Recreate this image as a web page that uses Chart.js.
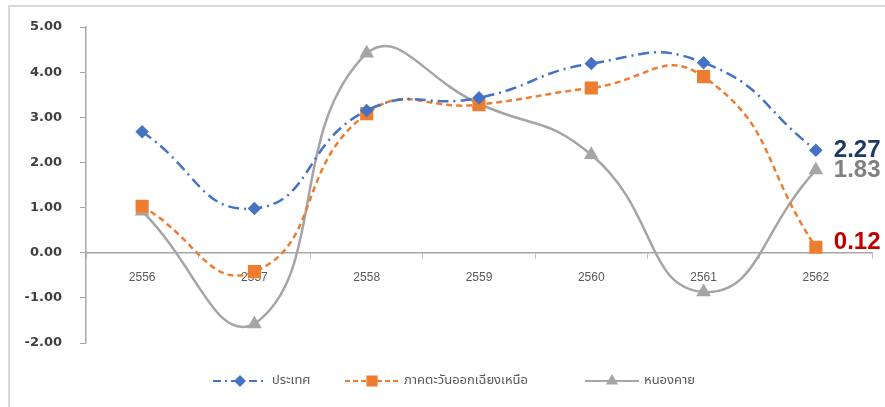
<!DOCTYPE html>
<html lang="th">
<head>
    <meta charset="UTF-8">
    <title>อัตราการเติบโต</title>
    <script src="https://cdn.jsdelivr.net/npm/chart.js"></script>
    <style>
        body {
            margin: 0;
            padding: 0;
            background: #fff;
        }
        .frame {
            position: absolute;
            left: 8px;
            top: 5px;
            width: 900px;
            height: 420px;
            border-top: 2px solid #d9d9d9;
            border-left: 2px solid #d9d9d9;
        }
        #growthChart {
            position: absolute;
            left: 0;
            top: 0;
        }
    </style>
</head>
<body>
    <div class="frame"></div>
    <canvas id="growthChart" width="885" height="407"></canvas>

    <script>
        // years (Thai B.E.)
        const years = ['2556', '2557', '2558', '2559', '2560', '2561', '2562'];
        const country = [2.68, 0.98, 3.15, 3.43, 4.19, 4.21, 2.27];
        const northeast = [1.03, -0.42, 3.08, 3.28, 3.65, 3.90, 0.12];
        const nongkhai = [0.92, -1.58, 4.42, 3.30, 2.17, -0.87, 1.83];
        const seriesNames = ['ประเทศ', 'ภาคตะวันออกเฉียงเหนือ', 'หนองคาย'];
        const yTicks = [-2, -1, 0, 1, 2, 3, 4, 5];

        const thaiFont = "'Noto Sans Thai', 'Noto Sans', 'Liberation Sans', sans-serif";

        // end-of-line value labels
        const endLabels = {
            id: 'endLabels',
            afterDatasetsDraw(chart) {
                const ctx = chart.ctx;
                const colors = ['#1f3864', '#c00000', '#7f7f7f'];
                const shiftY = [0, -5, 0];
                ctx.save();
                ctx.font = "bold 24px 'Liberation Sans', Arial, sans-serif";
                ctx.textBaseline = 'middle';
                ctx.textAlign = 'left';
                chart.data.datasets.forEach((ds, i) => {
                    const meta = chart.getDatasetMeta(i);
                    const pt = meta.data[meta.data.length - 1];
                    const v = ds.data[ds.data.length - 1];
                    ctx.fillStyle = colors[i];
                    ctx.fillText(v.toFixed(2), pt.x + 18, pt.y + shiftY[i]);
                });
                ctx.restore();
            }
        };

        // legend drawn like the spreadsheet one: line sample + marker + text
        const lineLegend = {
            id: 'lineLegend',
            afterDraw(chart) {
                const ctx = chart.ctx;
                const y = 381;
                const starts = [213, 345, 585];
                const markR = [4.5, 6.5, 5];
                const dashes = [[8, 4, 2, 4], [5, 3], []];
                ctx.save();
                chart.data.datasets.forEach((ds, i) => {
                    const x0 = starts[i];
                    const x1 = x0 + 54;
                    ctx.strokeStyle = ds.borderColor;
                    ctx.lineWidth = 2;
                    ctx.setLineDash(dashes[i]);
                    ctx.beginPath();
                    ctx.moveTo(x0, y);
                    ctx.lineTo(x1, y);
                    ctx.stroke();
                    ctx.setLineDash([]);
                    ctx.fillStyle = ds.pointBackgroundColor;
                    ctx.strokeStyle = ds.pointBackgroundColor;
                    Chart.helpers.drawPoint(ctx, {
                        pointStyle: ds.pointStyle,
                        radius: markR[i],
                        borderWidth: 1
                    }, (x0 + x1) / 2, y);
                    ctx.fillStyle = '#595959';
                    ctx.font = '13px ' + thaiFont;
                    ctx.textBaseline = 'middle';
                    ctx.fillText(ds.label, x1 + 5, y);
                });
                ctx.restore();
            }
        };

        const ctx = document.getElementById('growthChart').getContext('2d');
        new Chart(ctx, {
            type: 'line',
            data: {
                labels: years,
                datasets: [{
                    label: seriesNames[0],
                    data: country,
                    borderColor: '#4472c4',
                    pointBackgroundColor: '#4472c4',
                    pointBorderColor: '#4472c4',
                    borderWidth: 2.5,
                    borderDash: [11, 5, 2, 5],
                    pointStyle: 'rectRot',
                    pointRadius: 5,
                    tension: 0.5
                }, {
                    label: seriesNames[1],
                    data: northeast,
                    borderColor: '#ed7d31',
                    pointBackgroundColor: '#ed7d31',
                    pointBorderColor: '#ed7d31',
                    borderWidth: 2.5,
                    borderDash: [6, 4],
                    pointStyle: 'rect',
                    pointRadius: 7.5,
                    tension: 0.5
                }, {
                    label: seriesNames[2],
                    data: nongkhai,
                    borderColor: '#a5a5a5',
                    pointBackgroundColor: '#a5a5a5',
                    pointBorderColor: '#a5a5a5',
                    borderWidth: 2.5,
                    pointStyle: 'triangle',
                    pointRadius: 6,
                    tension: 0.5
                }]
            },
            options: {
                responsive: false,
                animation: false,
                layout: {
                    padding: { top: 27, right: 13, bottom: 64, left: 0 }
                },
                plugins: {
                    legend: { display: false },
                    tooltip: { enabled: false }
                },
                scales: {
                    x: {
                        position: { y: 0 },
                        offset: true,
                        grid: {
                            offset: true,
                            drawOnChartArea: false,
                            tickLength: 5,
                            color: '#bfbfbf'
                        },
                        border: { color: '#a6a6a6', width: 1.5 },
                        ticks: {
                            color: '#595959',
                            padding: 13,
                            font: { size: 12, family: "'Liberation Sans', Arial, sans-serif" }
                        }
                    },
                    y: {
                        min: -2,
                        max: 5,
                        afterFit(scale) { scale.width = 86; },
                        afterBuildTicks(scale) { scale.ticks = yTicks.map(v => ({ value: v })); },
                        grid: {
                            drawOnChartArea: false,
                            tickLength: 6,
                            color: '#a6a6a6'
                        },
                        border: { color: '#a6a6a6', width: 1.5 },
                        ticks: {
                            color: '#404040',
                            padding: 18,
                            font: { size: 13, weight: 'bold', family: "'DejaVu Sans', 'Liberation Sans', sans-serif" },
                            callback: v => v.toFixed(2)
                        }
                    }
                }
            },
            plugins: [endLabels, lineLegend]
        });
    </script>
</body>
</html>
